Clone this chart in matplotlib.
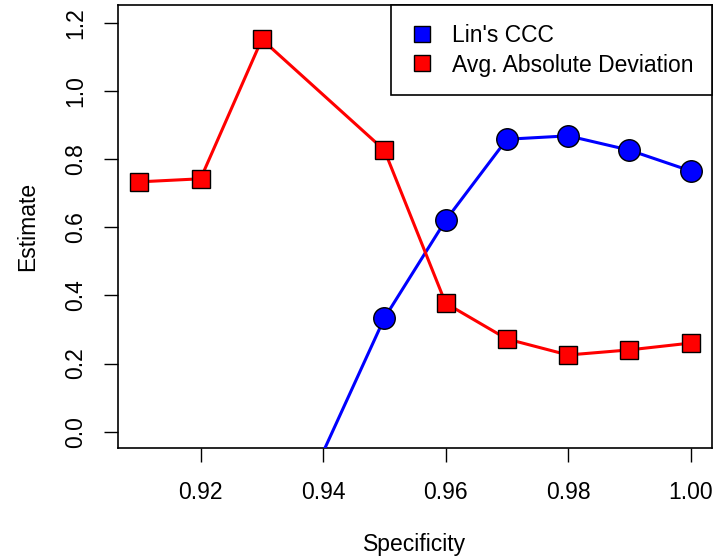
"""Lin's CCC and average absolute deviation vs specificity (R base-graphics look)."""
import matplotlib
matplotlib.use('Agg')

import numpy as np
import matplotlib.pyplot as plt
from matplotlib.lines import Line2D

plt.rcParams['font.family'] = ['Liberation Sans', 'DejaVu Sans']

# data
ccc_spec = [0.94, 0.95, 0.96, 0.97, 0.98, 0.99, 1.00]
ccc_est = [-0.06, 0.333, 0.620, 0.858, 0.868, 0.826, 0.765]

aad_spec = [0.91, 0.92, 0.93, 0.95, 0.96, 0.97, 0.98, 0.99, 1.00]
aad_est = [0.733, 0.742, 1.151, 0.826, 0.377, 0.272, 0.225, 0.240, 0.260]

x_ticks = [0.92, 0.94, 0.96, 0.98, 1.00]
y_ticks = [0.0, 0.2, 0.4, 0.6, 0.8, 1.0, 1.2]
labels = ["Lin's CCC", "Avg. Absolute Deviation"]

XLIM = (0.90644, 1.00353)
YLIM = (-0.047, 1.251)
FS = 16.5

fig = plt.figure(figsize=(7.13, 5.6), dpi=100, facecolor='white')
ax = fig.add_axes([117.5 / 713, 112.3 / 560, 594.8 / 713, 442.4 / 560])

# R clips symbols whose centre is outside the plot region
ccc_arr = np.array(ccc_est)
shown = list(np.where((ccc_arr >= YLIM[0]) & (ccc_arr <= YLIM[1]))[0])

ax.plot(ccc_spec, ccc_est, color='#0000FF', lw=2.2, marker='o', ms=15.5,
        mfc='#0000FF', mec='black', mew=1.0, markevery=shown, zorder=3)
ax.plot(aad_spec, aad_est, color='#FF0000', lw=2.2, marker='s', ms=13.5,
        mfc='#FF0000', mec='black', mew=1.0, zorder=3)

ax.set_xlim(*XLIM)
ax.set_ylim(*YLIM)

ax.set_xticks(x_ticks)
ax.set_xticklabels([f'{v:.2f}' for v in x_ticks])
ax.set_yticks(y_ticks)
ax.set_yticklabels([f'{v:.1f}' for v in y_ticks], rotation=90, va='center')
ax.tick_params(direction='out', length=10, width=1.0, labelsize=FS,
               colors='black')
ax.tick_params(axis='x', pad=14)
ax.tick_params(axis='y', pad=12)

for sp in ax.spines.values():
    sp.set_linewidth(1.2)
    sp.set_color('black')

ax.set_xlabel('Specificity', fontsize=FS)
ax.xaxis.set_label_coords(0.5, (447.7 - 545) / 442.4)
ax.xaxis.label.set_va('center')
ax.set_ylabel('Estimate', fontsize=FS)
ax.yaxis.set_label_coords((28 - 117.5) / 594.8, 0.5)
ax.yaxis.label.set_va('center')

handles = [
    Line2D([], [], ls='none', marker='s', ms=12, mfc='#0000FF', mec='black', mew=1.0),
    Line2D([], [], ls='none', marker='s', ms=12, mfc='#FF0000', mec='black', mew=1.0),
]
leg = ax.legend(handles, labels, loc='upper right', fontsize=FS,
                frameon=True, fancybox=False, borderaxespad=0,
                borderpad=0.8, handlelength=1.1, handletextpad=0.8,
                labelspacing=0.3)
leg.get_frame().set_edgecolor('black')
leg.get_frame().set_linewidth(1.2)
leg.get_frame().set_alpha(1)

fig.savefig('out.png', dpi=100, facecolor='white')
